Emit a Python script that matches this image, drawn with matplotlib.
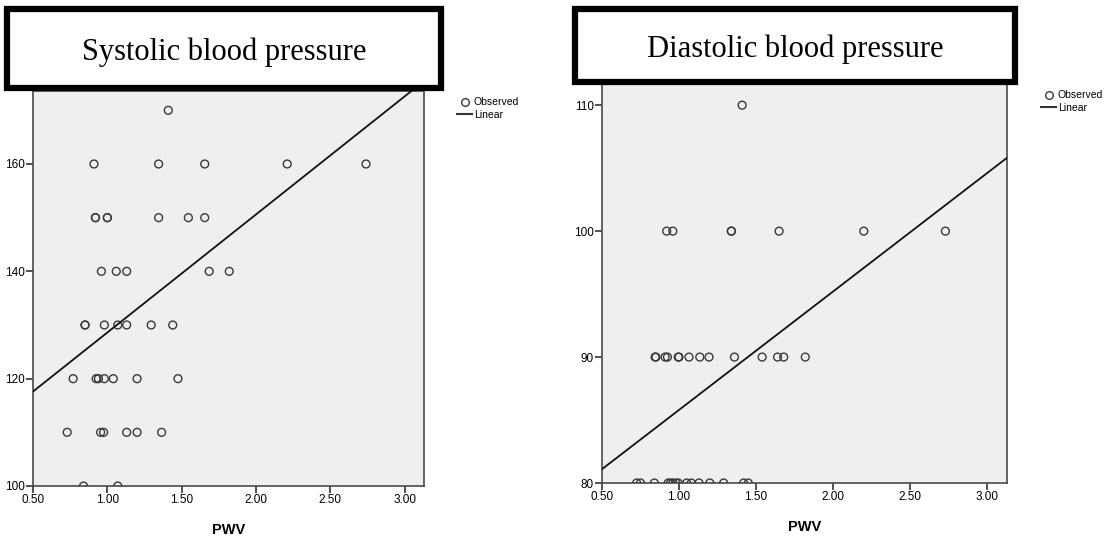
import numpy as np
import matplotlib
matplotlib.use("Agg")
import matplotlib.pyplot as plt
from matplotlib.lines import Line2D
from matplotlib.patches import Rectangle

# systolic blood pressure vs PWV
sbp_pwv = [1.41,
           0.91, 1.345, 1.655, 2.21, 2.74,
           0.92, 0.92, 1.00, 1.00, 1.345, 1.545, 1.655,
           0.96, 1.06, 1.13, 1.685, 1.82,
           0.85, 0.85, 0.98, 1.07, 1.13, 1.295, 1.44,
           0.77, 0.925, 0.94, 0.98, 1.04, 1.20, 1.475,
           0.73, 0.955, 0.975, 1.13, 1.20, 1.365,
           0.84, 1.07]
sbp = [170,
       160, 160, 160, 160, 160,
       150, 150, 150, 150, 150, 150, 150,
       140, 140, 140, 140, 140,
       130, 130, 130, 130, 130, 130, 130,
       120, 120, 120, 120, 120, 120, 120,
       110, 110, 110, 110, 110, 110,
       100, 100]
sbp_fit = [106.6, 22.0]   # intercept, slope

# diastolic blood pressure vs PWV
dbp_pwv = [1.41,
           0.92, 0.96, 1.34, 1.34, 1.65, 2.20, 2.73,
           0.845, 0.85, 0.91, 0.925, 0.995, 1.0, 1.065, 1.135, 1.195, 1.36, 1.54, 1.64, 1.68, 1.82,
           0.725, 0.75, 0.84, 0.93, 0.945, 0.96, 0.98, 0.995, 1.05, 1.08, 1.13, 1.20, 1.29, 1.42, 1.45]
dbp = [110,
       100, 100, 100, 100, 100, 100, 100,
       90, 90, 90, 90, 90, 90, 90, 90, 90, 90, 90, 90, 90, 90,
       80, 80, 80, 80, 80, 80, 80, 80, 80, 80, 80, 80, 80, 80, 80]
dbp_fit = [76.4, 9.4]

panels = [
    ("Systolic blood pressure", sbp_pwv, sbp, sbp_fit, [100, 120, 140, 160], (100, 173.6)),
    ("Diastolic blood pressure", dbp_pwv, dbp, dbp_fit, [80, 90, 100, 110], (80, 112)),
]
x_ticks = [0.5, 1.0, 1.5, 2.0, 2.5, 3.0]

plt.rcParams['font.family'] = ['Liberation Sans Narrow', 'Liberation Sans', 'DejaVu Sans']

W, H = 1109, 536
fig = plt.figure(figsize=(W / 100, H / 100), dpi=100)

# axes rectangles in pixels: left, top, right, bottom
ax_px = [(33, 91, 424, 486), (602, 80, 1007, 483)]
box_px = [(7, 9, 441, 88), (575, 9, 1015, 82)]
leg_px = [(452, 92), (1036, 85)]

for i, (title, xs, ys, fit, yt, ylim) in enumerate(panels):
    l, t, r, b = ax_px[i]
    ax = fig.add_axes([l / W, 1 - b / H, (r - l) / W, (b - t) / H])
    ax.set_facecolor("#efefef")
    ax.scatter(xs, ys, s=32, facecolors="none", edgecolors="#3a3a3a",
               linewidths=1.0, zorder=3, clip_on=True, label="Observed")
    xx = np.array([0.5, 3.2])
    ax.plot(xx, fit[0] + fit[1] * xx, color="#111111", lw=1.3, zorder=4, label="Linear")
    ax.set_xlim(0.5, 3.13)
    ax.set_ylim(*ylim)
    ax.set_xticks(x_ticks)
    ax.set_xticklabels([f"{v:.2f}" for v in x_ticks], fontsize=8.5)
    ax.set_yticks(yt)
    ax.set_yticklabels([str(v) for v in yt], fontsize=8.5)
    ax.tick_params(direction="out", length=5, width=1.2, color="#333333", pad=1)
    for s in ax.spines.values():
        s.set_color("#4a4a4a")
        s.set_linewidth(1.2)
    ax.set_xlabel("PWV", fontsize=10.5, fontweight="bold", labelpad=12)

    handles = [Line2D([], [], ls="none", marker="o", mfc="none", mec="#3a3a3a", ms=5.5, mew=1.0),
               Line2D([], [], color="#333333", lw=1.5)]
    lx, ly = leg_px[i]
    fig.legend(handles, ["Observed", "Linear"], loc="upper left",
               bbox_to_anchor=(lx / W, 1 - ly / H), frameon=False, fontsize=7.5,
               handlelength=1.4, handletextpad=0.2, labelspacing=0.25, borderpad=0)

    bl, bt, br, bb = box_px[i]
    fig.patches.append(Rectangle((bl / W, 1 - bb / H), (br - bl) / W, (bb - bt) / H,
                                 transform=fig.transFigure, facecolor="white",
                                 edgecolor="black", linewidth=4.5, zorder=10))
    fig.text((bl + br) / 2 / W, 1 - ((bt + bb) / 2 + 4) / H, title, ha="center", va="center",
             family="Liberation Serif", fontsize=22, zorder=11)

fig.savefig("out.png", dpi=100)
